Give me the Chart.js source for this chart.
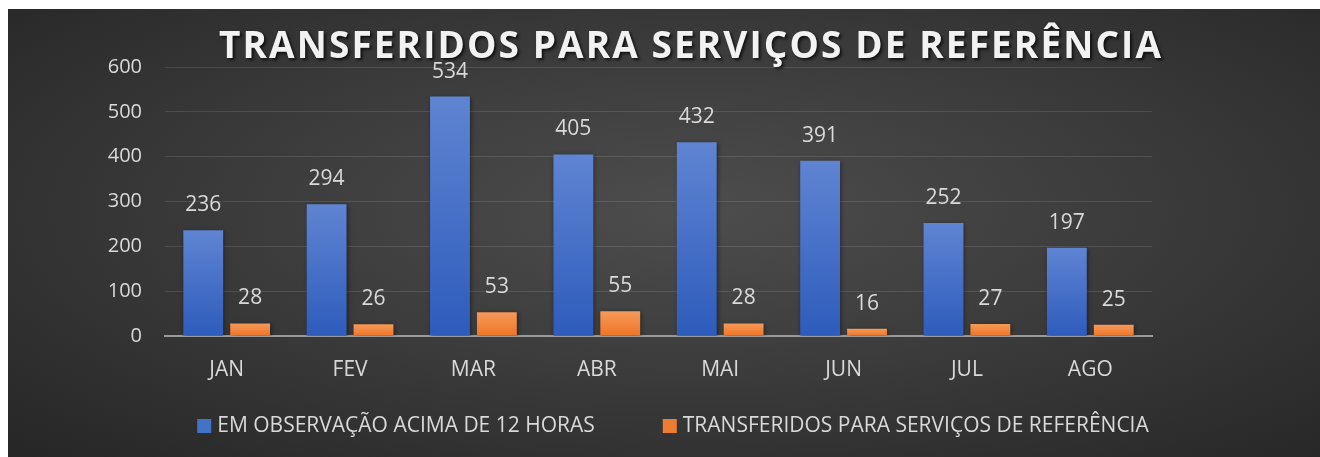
<!DOCTYPE html>
<html>
<head>
<meta charset="utf-8">
<script src="https://cdn.jsdelivr.net/npm/chart.js@4/dist/chart.umd.min.js"></script>
<style>
  html, body { margin: 0; padding: 0; background: #fff; }
  #wrap { position: relative; width: 1320px; height: 457px; }
  #bg {
    position: absolute; left: 8px; top: 9px; right: 0; bottom: 0;
    background: radial-gradient(ellipse at 52% 45%, #4d4d4d 0%, #3c3c3c 45%, #262626 100%);
  }
  #myBarChart { position: absolute; left: 0; top: 0; }
</style>
</head>
<body>
<div id="wrap">
  <div id="bg"></div>
  <canvas id="myBarChart" width="1320" height="457"></canvas>
</div>
<script>
// chart data
var titleText = "TRANSFERIDOS PARA SERVIÇOS DE REFERÊNCIA";
var months = ["JAN", "FEV", "MAR", "ABR", "MAI", "JUN", "JUL", "AGO"];
var observacao = [236, 294, 534, 405, 432, 391, 252, 197];
var transferidos = [28, 26, 53, 55, 28, 16, 27, 25];
var seriesNames = ["EM OBSERVAÇÃO ACIMA DE 12 HORAS", "TRANSFERIDOS PARA SERVIÇOS DE REFERÊNCIA"];
var yTicks = [0, 100, 200, 300, 400, 500, 600];

var fontName = "'Open Sans', sans-serif";
var textGray = "#d9d9d9";

// gradient for each bar, from its top down to the zero line
function barGradient(top, bottom) {
    return function(context) {
        var chart = context.chart;
        if (!chart.chartArea || context.parsed === undefined) return bottom;
        var y = chart.scales.y;
        var v = context.raw;
        var g = chart.ctx.createLinearGradient(0, y.getPixelForValue(v), 0, y.getPixelForValue(0));
        g.addColorStop(0, top);
        g.addColorStop(1, bottom);
        return g;
    };
}

// title with letter spacing and shadow
var titlePlugin = {
    id: "spacedTitle",
    afterDraw: function(chart) {
        var ctx = chart.ctx;
        ctx.save();
        ctx.font = "bold 37px " + fontName;
        ctx.letterSpacing = "0px";
        var w = ctx.measureText(titleText).width;
        var spacing = (944 - w) / titleText.length;
        ctx.letterSpacing = spacing + "px";
        ctx.textAlign = "center";
        ctx.textBaseline = "middle";
        ctx.shadowColor = "rgba(0,0,0,0.7)";
        ctx.shadowOffsetX = 2;
        ctx.shadowOffsetY = 2;
        ctx.shadowBlur = 3;
        ctx.fillStyle = "#f2f2f2";
        ctx.fillText(titleText, 690 + spacing / 2, 47);
        ctx.restore();
    }
};

// legend at the bottom, drawn by hand for the wide gap between items
var bottomLegend = {
    id: "bottomLegend",
    afterDraw: function(chart) {
        var ctx = chart.ctx;
        var box = 14, gap = 6, between = 68, cy = 426;
        ctx.save();
        ctx.font = "21px " + fontName;
        ctx.textBaseline = "middle";
        var widths = chart.data.datasets.map(function(ds) { return ctx.measureText(ds.label).width; });
        var total = 2 * (box + gap) + widths[0] + widths[1] + between;
        var x = 673 - total / 2;
        chart.data.datasets.forEach(function(ds, i) {
            ctx.fillStyle = ds.legendColor;
            ctx.fillRect(x, cy - box / 2, box, box);
            ctx.fillStyle = textGray;
            ctx.fillText(ds.label, x + box + gap, cy);
            x += box + gap + widths[i] + between;
        });
        ctx.restore();
    }
};

// values above the bars
var valueLabels = {
    id: "valueLabels",
    beforeDatasetsDraw: function(chart) {
        var ctx = chart.ctx;
        ctx.save();
        ctx.shadowColor = "rgba(0,0,0,0.45)";
        ctx.shadowBlur = 4;
        ctx.shadowOffsetX = 1;
        ctx.shadowOffsetY = 1;
    },
    afterDatasetsDraw: function(chart) {
        var ctx = chart.ctx;
        ctx.restore();
        ctx.save();
        ctx.font = "21px " + fontName;
        ctx.fillStyle = textGray;
        ctx.textAlign = "center";
        ctx.textBaseline = "middle";
        chart.data.datasets.forEach(function(ds, i) {
            chart.getDatasetMeta(i).data.forEach(function(bar, j) {
                ctx.fillText(ds.data[j], bar.x, bar.y - 25);
            });
        });
        ctx.restore();
    }
};

var ctx = document.getElementById("myBarChart");
var myBarChart = new Chart(ctx, {
    type: "bar",
    data: {
        labels: months,
        datasets: [{
            label: seriesNames[0],
            data: observacao,
            backgroundColor: barGradient("#5f84d2", "#2e5cbc"),
            legendColor: "#4472c4"
        }, {
            label: seriesNames[1],
            data: transferidos,
            backgroundColor: barGradient("#f6995a", "#ee7526"),
            legendColor: "#ed7d31"
        }]
    },
    options: {
        responsive: false,
        animation: false,
        datasets: {
            bar: { categoryPercentage: 0.76, barPercentage: 0.85 }
        },
        layout: { padding: { top: 67, right: 168, bottom: 61, left: 0 } },
        plugins: {
            title: { display: false },
            tooltip: { enabled: false },
            legend: { display: false }
        },
        scales: {
            x: {
                grid: { display: false, drawTicks: false },
                border: { display: true, color: "#9a9a9a", width: 2 },
                ticks: {
                    color: textGray,
                    font: { family: fontName, size: 21 },
                    padding: 21
                },
                afterFit: function(scale) { scale.height = 60; }
            },
            y: {
                min: 0,
                max: 600,
                afterBuildTicks: function(scale) {
                    scale.ticks = yTicks.map(function(v) { return { value: v }; });
                },
                grid: { color: "rgba(255,255,255,0.11)", lineWidth: 1, drawTicks: false },
                border: { display: false },
                ticks: {
                    color: textGray,
                    font: { family: fontName, size: 20 },
                    padding: 23
                },
                afterFit: function(scale) { scale.width = 165; }
            }
        }
    },
    plugins: [valueLabels, titlePlugin, bottomLegend]
});
</script>
</body>
</html>
